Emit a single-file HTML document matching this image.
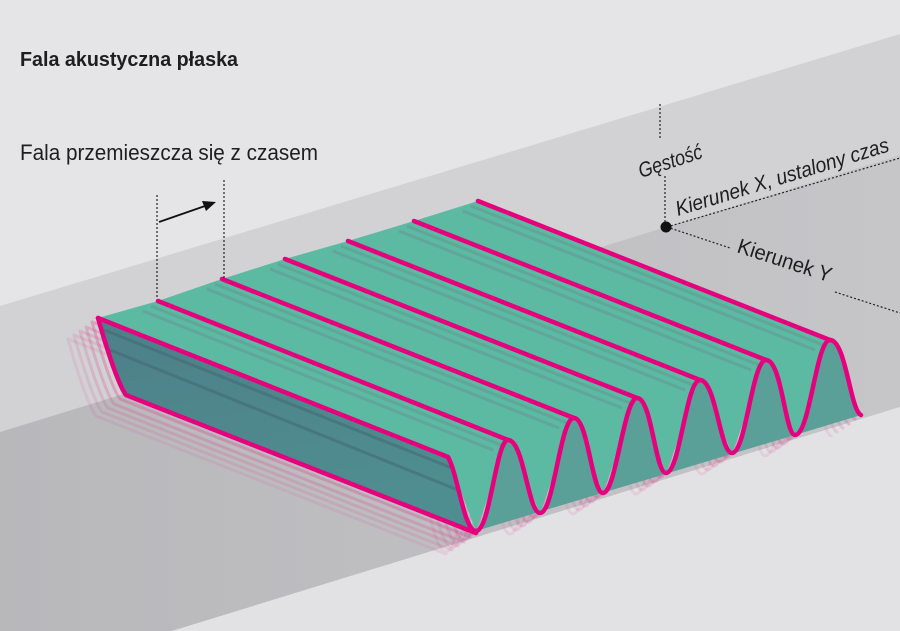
<!DOCTYPE html>
<html><head><meta charset="utf-8"><style>
html,body{margin:0;padding:0;background:#e5e5e7;}
svg{display:block;}
text{font-family:"Liberation Sans Narrow","Liberation Sans",sans-serif;fill:#1e1e20;}
</style></head><body>
<svg width="900" height="631" viewBox="0 0 900 631" xmlns="http://www.w3.org/2000/svg">
<defs>
<linearGradient id="fl" x1="0" y1="0" x2="1" y2="0">
<stop offset="0" stop-color="#b8b8bb"/><stop offset="1" stop-color="#c6c6c9"/></linearGradient>
<linearGradient id="face" x1="0" y1="0" x2="0.3" y2="1">
<stop offset="0" stop-color="#4e7f88"/><stop offset="1" stop-color="#4f8e90"/></linearGradient>
<g id="outline" fill="none" stroke-linecap="round" stroke-linejoin="round">
<path d="M98,318 C104,340 118,385 126,395 L476,533"/>
<path d="M98,318 L448,457"/><path d="M158,301 L508,440"/><path d="M222,279 L574,418"/>
<path d="M285,259 L637,398"/><path d="M348,241 L700,380"/><path d="M414,221 L766,360"/><path d="M478,201 L830,340"/>
<path d="M448,457 C458,475 464,531 476,531 C490,531 496,440 508,440 C524,440 528,513 540,513 C554,513 560,418 574,418 C588,418 592,493 603,493 C616,493 624,398 637,398 C652,398 655,473 666,473 C680,473 686,380 700,380 C716,380 720,453 732,453 C746,453 752,360 766,360 C782,360 785,435 795,435 C810,435 816,340 830,340 C846,340 850,410 861,415"/>
</g>
</defs>
<polygon points="0,306 900,34 900,155 0,432" fill="#d2d2d4"/>
<polygon points="0,432 900,155 900,407 172,631 0,631" fill="url(#fl)"/>
<polygon points="172,631 900,407 900,631" fill="#e2e2e4"/>
<g stroke="#d9488f" stroke-width="3">
<use href="#outline" transform="translate(-30,21)" opacity="0.12"/>
<use href="#outline" transform="translate(-24,17)" opacity="0.16"/>
<use href="#outline" transform="translate(-18,13)" opacity="0.2"/>
<use href="#outline" transform="translate(-12,9)" opacity="0.26"/>
<use href="#outline" transform="translate(-6,4)" opacity="0.33"/>
</g>
<polygon points="98,318 158,301 222,279 285,259 348,241 414,221 478,201 830,340 861,415 795,435 766,360 732,453 700,380 666,473 637,398 603,493 574,418 540,513 508,440 476,531 448,457" fill="#5bbaa1"/>
<path d="M476,531 C490,531 496,440 508,440 C524,440 528,513 540,513 C554,513 560,418 574,418 C588,418 592,493 603,493 C616,493 624,398 637,398 C652,398 655,473 666,473 C680,473 686,380 700,380 C716,380 720,453 732,453 C746,453 752,360 766,360 C782,360 785,435 795,435 C810,435 816,340 830,340 C846,340 850,410 861,415 Z" fill="#5a9f98"/>
<g stroke="#6f7e8a" stroke-width="3" fill="none" opacity="0.35">
<path d="M151,306 L501,445 M143,311 L493,450 M215,284 L567,423 M207,289 L559,428 M278,264 L630,403 M270,269 L622,408 M341,246 L693,385 M333,251 L685,390 M407,226 L759,365 M399,231 L751,370 M471,206 L823,345 M463,211 L815,350"/>
</g>
<path d="M98,318 L448,457 C458,475 464,531 476,533 L126,395 C118,385 104,340 98,318 Z" fill="url(#face)"/>
<g stroke="#3f6670" stroke-width="3" fill="none" opacity="0.5">
<path d="M104,330 L452,468 M110,350 L458,490"/></g>
<use href="#outline" stroke="#e6007e" stroke-width="4.5"/>
<text x="20" y="66" font-size="20" font-weight="bold" textLength="218" lengthAdjust="spacingAndGlyphs">Fala akustyczna płaska</text>
<text x="20" y="160" font-size="22" textLength="298" lengthAdjust="spacingAndGlyphs">Fala przemieszcza się z czasem</text>
<g stroke="#222" stroke-width="1.2" stroke-dasharray="2,2" fill="none">
<line x1="157" y1="195" x2="157" y2="298"/>
<line x1="224" y1="180" x2="224" y2="280"/>
<line x1="660" y1="104" x2="660" y2="140"/>
<line x1="665" y1="176" x2="665" y2="226"/>
<line x1="667" y1="227" x2="900" y2="158"/>
<line x1="667" y1="227" x2="730" y2="248"/>
<line x1="835" y1="292" x2="900" y2="313"/>
</g>
<line x1="159" y1="222" x2="205" y2="206" stroke="#111" stroke-width="1.8"/>
<polygon points="216,202 202,201 206,211" fill="#111"/>
<circle cx="666" cy="227" r="5.5" fill="#111"/>
<text font-size="21" font-style="italic" transform="translate(641,178) rotate(-18)" textLength="66" lengthAdjust="spacingAndGlyphs">Gęstość</text>
<text font-size="21" font-style="italic" transform="translate(678,216) rotate(-17)" textLength="222" lengthAdjust="spacingAndGlyphs">Kierunek X, ustalony czas</text>
<text font-size="21" transform="translate(736,252) rotate(18)" textLength="98" lengthAdjust="spacingAndGlyphs">Kierunek Y</text>
</svg>
</body></html>
